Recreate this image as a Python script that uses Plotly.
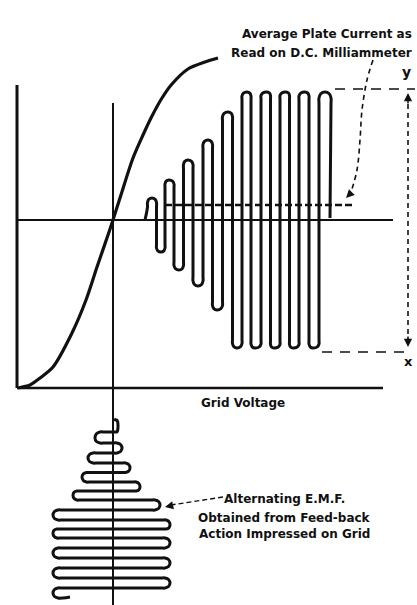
import plotly.graph_objects as go

# ---- data (units: grid voltage measured from left axis, plate current measured up from bottom axis) ----
# Plate-current vs grid-voltage characteristic
char_grid_v = [1, 13, 23, 36, 55, 69, 80, 91, 96, 103, 116, 126, 135, 145, 155, 171, 188, 201]
char_plate_i = [0, 3, 10, 21, 55, 88, 121, 153, 168, 190, 230, 253, 272, 290, 304, 319, 326, 330]

# Build-up of plate-current oscillation: start, successive peaks / troughs, end
osc_x = [128, 135, 144, 152, 162, 171, 181, 191, 200, 211, 220, 230, 238, 250, 257, 269, 276, 288, 296, 308, 313]
osc_i = [168, 190, 136, 208, 118, 228, 102, 248, 78, 276, 40, 296, 40, 296, 40, 296, 40, 296, 40, 296, 170]

# Average plate current read on D.C. milliammeter
avg_x = [148, 335]
avg_i = [183, 183]

# Alternating e.m.f. impressed on grid (grid voltage swing vs time, time running downward)
emf_v = [97, 101, 78, 105, 71, 113, 65, 123, 56, 143, 36, 153, 36, 153, 36, 153, 36, 153, 36, 53]
emf_t = [-31, -38, -50, -60, -70, -80, -89, -99, -107, -117, -127, -137, -145, -155, -165, -175, -185, -195, -205, -209]

INK = "#111111"
FONT = "DejaVu Sans"
C45 = 0.7071


def lobes(prog, amp):
    """Path through the read extremes, drawn (as in the original drawing) as
    round-topped lobes joined by straight strokes half-way between extremes."""
    p_out, a_out = [prog[0]], [amp[0]]
    n = len(prog)
    for k in range(1, n - 1):
        sgn = 1 if amp[k] > amp[k - 1] else -1
        span = min(abs(amp[k] - amp[k - 1]), abs(amp[k] - amp[k + 1]))
        if k == 1:
            after = (prog[k] + prog[k + 1]) / 2
            before = 2 * prog[k] - after
        elif k == n - 2:
            before = (prog[k - 1] + prog[k]) / 2
            after = 2 * prog[k] - before
        else:
            before = (prog[k - 1] + prog[k]) / 2
            after = (prog[k] + prog[k + 1]) / 2
        rb, ra = prog[k] - before, after - prog[k]
        rv = min(abs(rb), abs(ra), 0.3 * span)
        e_p, e_a = prog[k], amp[k]
        p_out += [before, before, e_p - rb * C45, e_p, e_p + ra * C45, after, after]
        a_out += [e_a - sgn * 2 * rv, e_a - sgn * rv, e_a - sgn * rv * (1 - C45), e_a,
                  e_a - sgn * rv * (1 - C45), e_a - sgn * rv, e_a - sgn * 2 * rv]
    p_out.append(prog[-1])
    a_out.append(amp[-1])
    return p_out, a_out


fig = go.Figure()

fig.add_trace(go.Scatter(x=char_grid_v, y=char_plate_i, mode="lines",
                         line=dict(color=INK, width=3.2, shape="spline", smoothing=0.8),
                         hoverinfo="skip", showlegend=False))

ox, oy = lobes(osc_x, osc_i)
fig.add_trace(go.Scatter(x=ox, y=oy, mode="lines",
                         line=dict(color=INK, width=3, shape="spline", smoothing=1.1),
                         hoverinfo="skip", showlegend=False))
fig.add_trace(go.Scatter(x=avg_x, y=avg_i, mode="lines",
                         line=dict(color=INK, width=2.6, dash="7px,3px"),
                         hoverinfo="skip", showlegend=False))

et, ev = lobes(emf_t, emf_v)
fig.add_trace(go.Scatter(x=ev, y=et, mode="lines",
                         line=dict(color=INK, width=3, shape="spline", smoothing=1.1),
                         hoverinfo="skip", showlegend=False))

# leader from label to average-current line (dashed)
lead_x = [356, 350, 345, 343, 340, 334]
lead_y = [328, 308, 278, 248, 218, 196]
fig.add_trace(go.Scatter(x=lead_x, y=lead_y, mode="lines",
                         line=dict(color=INK, width=1.6, dash="5px,4px", shape="spline"),
                         hoverinfo="skip", showlegend=False))

shapes = []
def seg(x0, y0, x1, y1, w=2, dash=None):
    d = dict(type="line", xref="x", yref="y", x0=x0, y0=y0, x1=x1, y1=y1,
             line=dict(color=INK, width=w))
    if dash:
        d["line"]["dash"] = dash
    shapes.append(d)

seg(0, 303, 0, 0, 3)          # plate-current axis
seg(0, 0, 366, 0, 2.5)        # grid-voltage axis
seg(96, 285, 96, -225, 2)     # operating-point grid bias line
seg(0, 168, 376, 168, 2)      # steady plate current level
# dimension lines
seg(318, 299, 398, 299, 1.6, "10px,8px")
seg(305, 36, 391, 36, 1.6, "10px,8px")
seg(391, 293, 391, 43, 1.6, "5px,4px")
# leader to grid e.m.f.
seg(206, -109, 154, -117, 1.4, "5px,3px")

annotations = []
def arrow(x, y, ax, ay):
    annotations.append(dict(x=x, y=y, ax=ax, ay=ay, xref="x", yref="y", axref="x", ayref="y",
                            text="", showarrow=True, arrowhead=2, arrowsize=1.1,
                            arrowwidth=1.5, arrowcolor=INK))

arrow(391, 295, 391, 283)
arrow(391, 41, 391, 53)
arrow(329, 190, 336, 197)
arrow(148, -119, 157, -117)

def label(x, y, text, size=12, anchor="center"):
    annotations.append(dict(x=x, y=y, xref="x", yref="y", text=text, showarrow=False,
                            xanchor=anchor, yanchor="middle",
                            font=dict(family=FONT, size=size, color=INK, weight="bold")))

label(397, 354, "Average Plate Current as", anchor="right")
label(397, 335, "Read on D.C. Milliammeter", anchor="right")
label(389, 316, "y", size=14)
label(391, 27, "x", size=13)
label(226, -15, "Grid Voltage")
label(267, -111, "Alternating E.M.F.")
label(267, -130, "Obtained from Feed-back")
label(267, -146, "Action Impressed on Grid")

W, H = 417, 605
fig.update_layout(
    width=W, height=H,
    margin=dict(l=0, r=0, t=0, b=0),
    paper_bgcolor="white", plot_bgcolor="white",
    xaxis=dict(range=[-17, W - 17], visible=False, fixedrange=True),
    yaxis=dict(range=[388 - H, 388], visible=False, fixedrange=True),
    shapes=shapes, annotations=annotations,
    showlegend=False,
)

fig.write_html("out.html",
               config={"displayModeBar": False, "staticPlot": True},
               post_script="document.body.style.margin='0px';document.body.style.overflow='hidden';")
